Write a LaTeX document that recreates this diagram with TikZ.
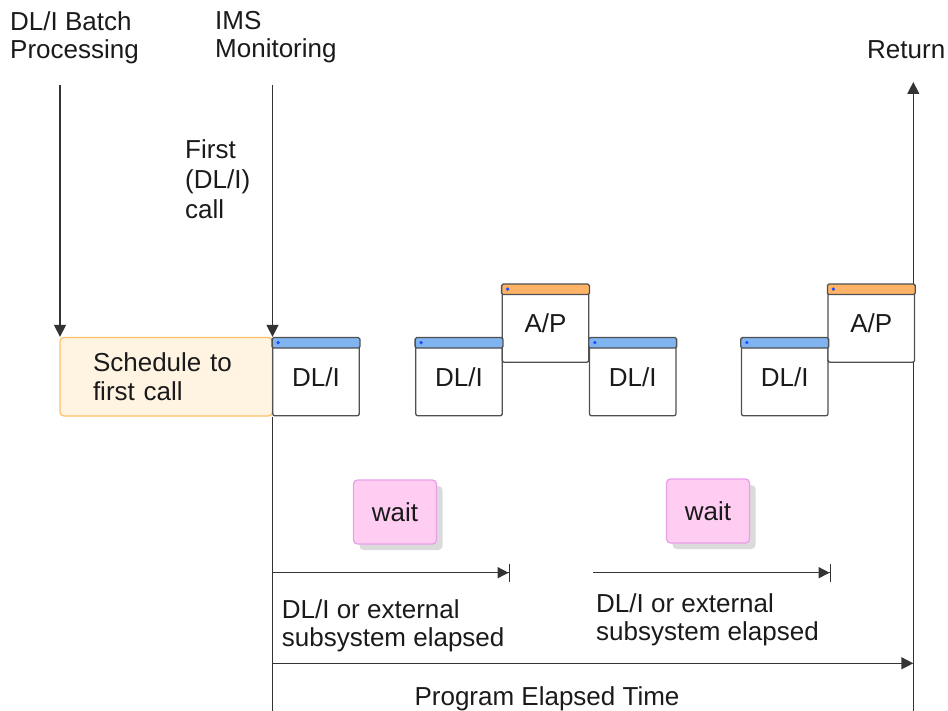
\documentclass[tikz,border=0pt]{standalone}
\usepackage{fontspec}
\setmainfont{Liberation Sans}
\usetikzlibrary{arrows.meta,shadows}
\definecolor{linecol}{HTML}{333333}
\definecolor{boxcol}{HTML}{505050}
\definecolor{txtcol}{HTML}{1A1A1A}
\definecolor{hdrblue}{HTML}{80B4F0}
\definecolor{hdrorange}{HTML}{FFB366}
\definecolor{dotblue}{HTML}{1F4FFF}
\definecolor{schedfill}{HTML}{FFF4E1}
\definecolor{schedline}{HTML}{FFC06A}
\definecolor{waitfill}{HTML}{FFCCF2}
\definecolor{waitline}{HTML}{E8A0E8}
\newcommand\hdrbar[2]{%
  \draw[draw=boxcol, line width=1.3pt, fill=#2, rounded corners=1.5pt] (#1.north west) rectangle ([yshift=-10.5pt]#1.north east);
  \fill[dotblue] ([xshift=6pt,yshift=-5pt]#1.north west) circle (1.9pt);}
\begin{document}
\begin{tikzpicture}[x=1pt, y=-1pt,
 every node/.style={font=\fontsize{26}{28.5}\selectfont, text=txtcol, inner sep=0pt},
 lbl/.style={align=left},
 conn/.style={draw=linecol, line width=1.4pt},
 tri/.style={-{Triangle[length=12pt,width=12pt]}},
 tribar/.style={-{Triangle[length=11pt,width=11pt] Bar[width=18pt,line width=1.4pt]}},
 callbox/.style={draw=boxcol, line width=1.3pt, fill=white, rounded corners=2pt, minimum width=86.5pt, minimum height=77.5pt},
 sched/.style={draw=schedline, line width=1.3pt, fill=schedfill, rounded corners=4pt, minimum width=212.5pt, minimum height=78.5pt, text width=146.5pt, align=left},
 waitbox/.style={draw=waitline, line width=1.3pt, fill=waitfill, rounded corners=4pt, minimum width=83pt, minimum height=64pt, drop shadow={shadow xshift=6pt, shadow yshift=-6pt, fill=black!14, opacity=1}}
]
\useasboundingbox (0,0) rectangle (948,711);

% labels
\node[lbl, anchor=north west] (tBatch) at (10,11) {DL/I Batch\\Processing};
\node[lbl, anchor=north west] (tIMS) at (215,11) {IMS\\Monitoring};
\node[lbl, anchor=north west, font=\fontsize{26}{30}\selectfont] (tFirst) at (185,139) {First\\(DL/I)\\call};
\node[anchor=base west] (tRet) at (867,58.3) {Return};

% coordinates
\coordinate (bTop) at (60,85);
\coordinate (iTop) at (272.5,85);
\coordinate (iBot) at (272.5,711);
\coordinate (rBot) at (913.3,711);
\coordinate (rTop) at (913.3,82);
\coordinate (e1s) at (272.5,572.7);
\coordinate (e1e) at (510,572.7);
\coordinate (e2s) at (593.3,572.7);
\coordinate (e2e) at (831,572.7);
\coordinate (ps) at (272.5,663.3);
\coordinate (pe) at (913.3,663.3);

% schedule box
\node[sched] (sch) at (166.25,376.75) {Schedule to\\first call};

% lines
\draw[conn,tri] (bTop) -- (bTop |- sch.north);
\draw[conn,tri] (iTop) -- (iTop |- sch.north);
\draw[conn] (iTop |- sch.south) -- (iBot);
\draw[conn,tri] (rBot) -- (rTop);

% call boxes
\node[callbox] (d1) at (316,377) {DL/I};
\node[callbox] (d2) at (459,377) {DL/I};
\node[callbox] (ap1) at (545.5,323.5) {A/P};
\node[callbox] (d3) at (632.7,377) {DL/I};
\node[callbox] (d4) at (784.7,377) {DL/I};
\node[callbox] (ap2) at (871.3,323.5) {A/P};
\hdrbar{d1}{hdrblue}
\hdrbar{d2}{hdrblue}
\hdrbar{d3}{hdrblue}
\hdrbar{d4}{hdrblue}
\hdrbar{ap1}{hdrorange}
\hdrbar{ap2}{hdrorange}

% wait boxes
\node[waitbox] (w1) at (395,512) {wait};
\node[waitbox] (w2) at (708,511) {wait};

% elapsed arrows
\draw[conn,tribar] (e1s) -- (e1e);
\draw[conn,tribar] (e2s) -- (e2e);
\draw[conn,tri] (ps) -- (pe);

\node[lbl, anchor=north west] (tE1) at (281.7,599) {DL/I or external\\subsystem elapsed};
\node[lbl, anchor=north west] (tE2) at (596,593) {DL/I or external\\subsystem elapsed};
\node[anchor=base] (tProg) at (547,705) {Program Elapsed Time};
\end{tikzpicture}
\end{document}
